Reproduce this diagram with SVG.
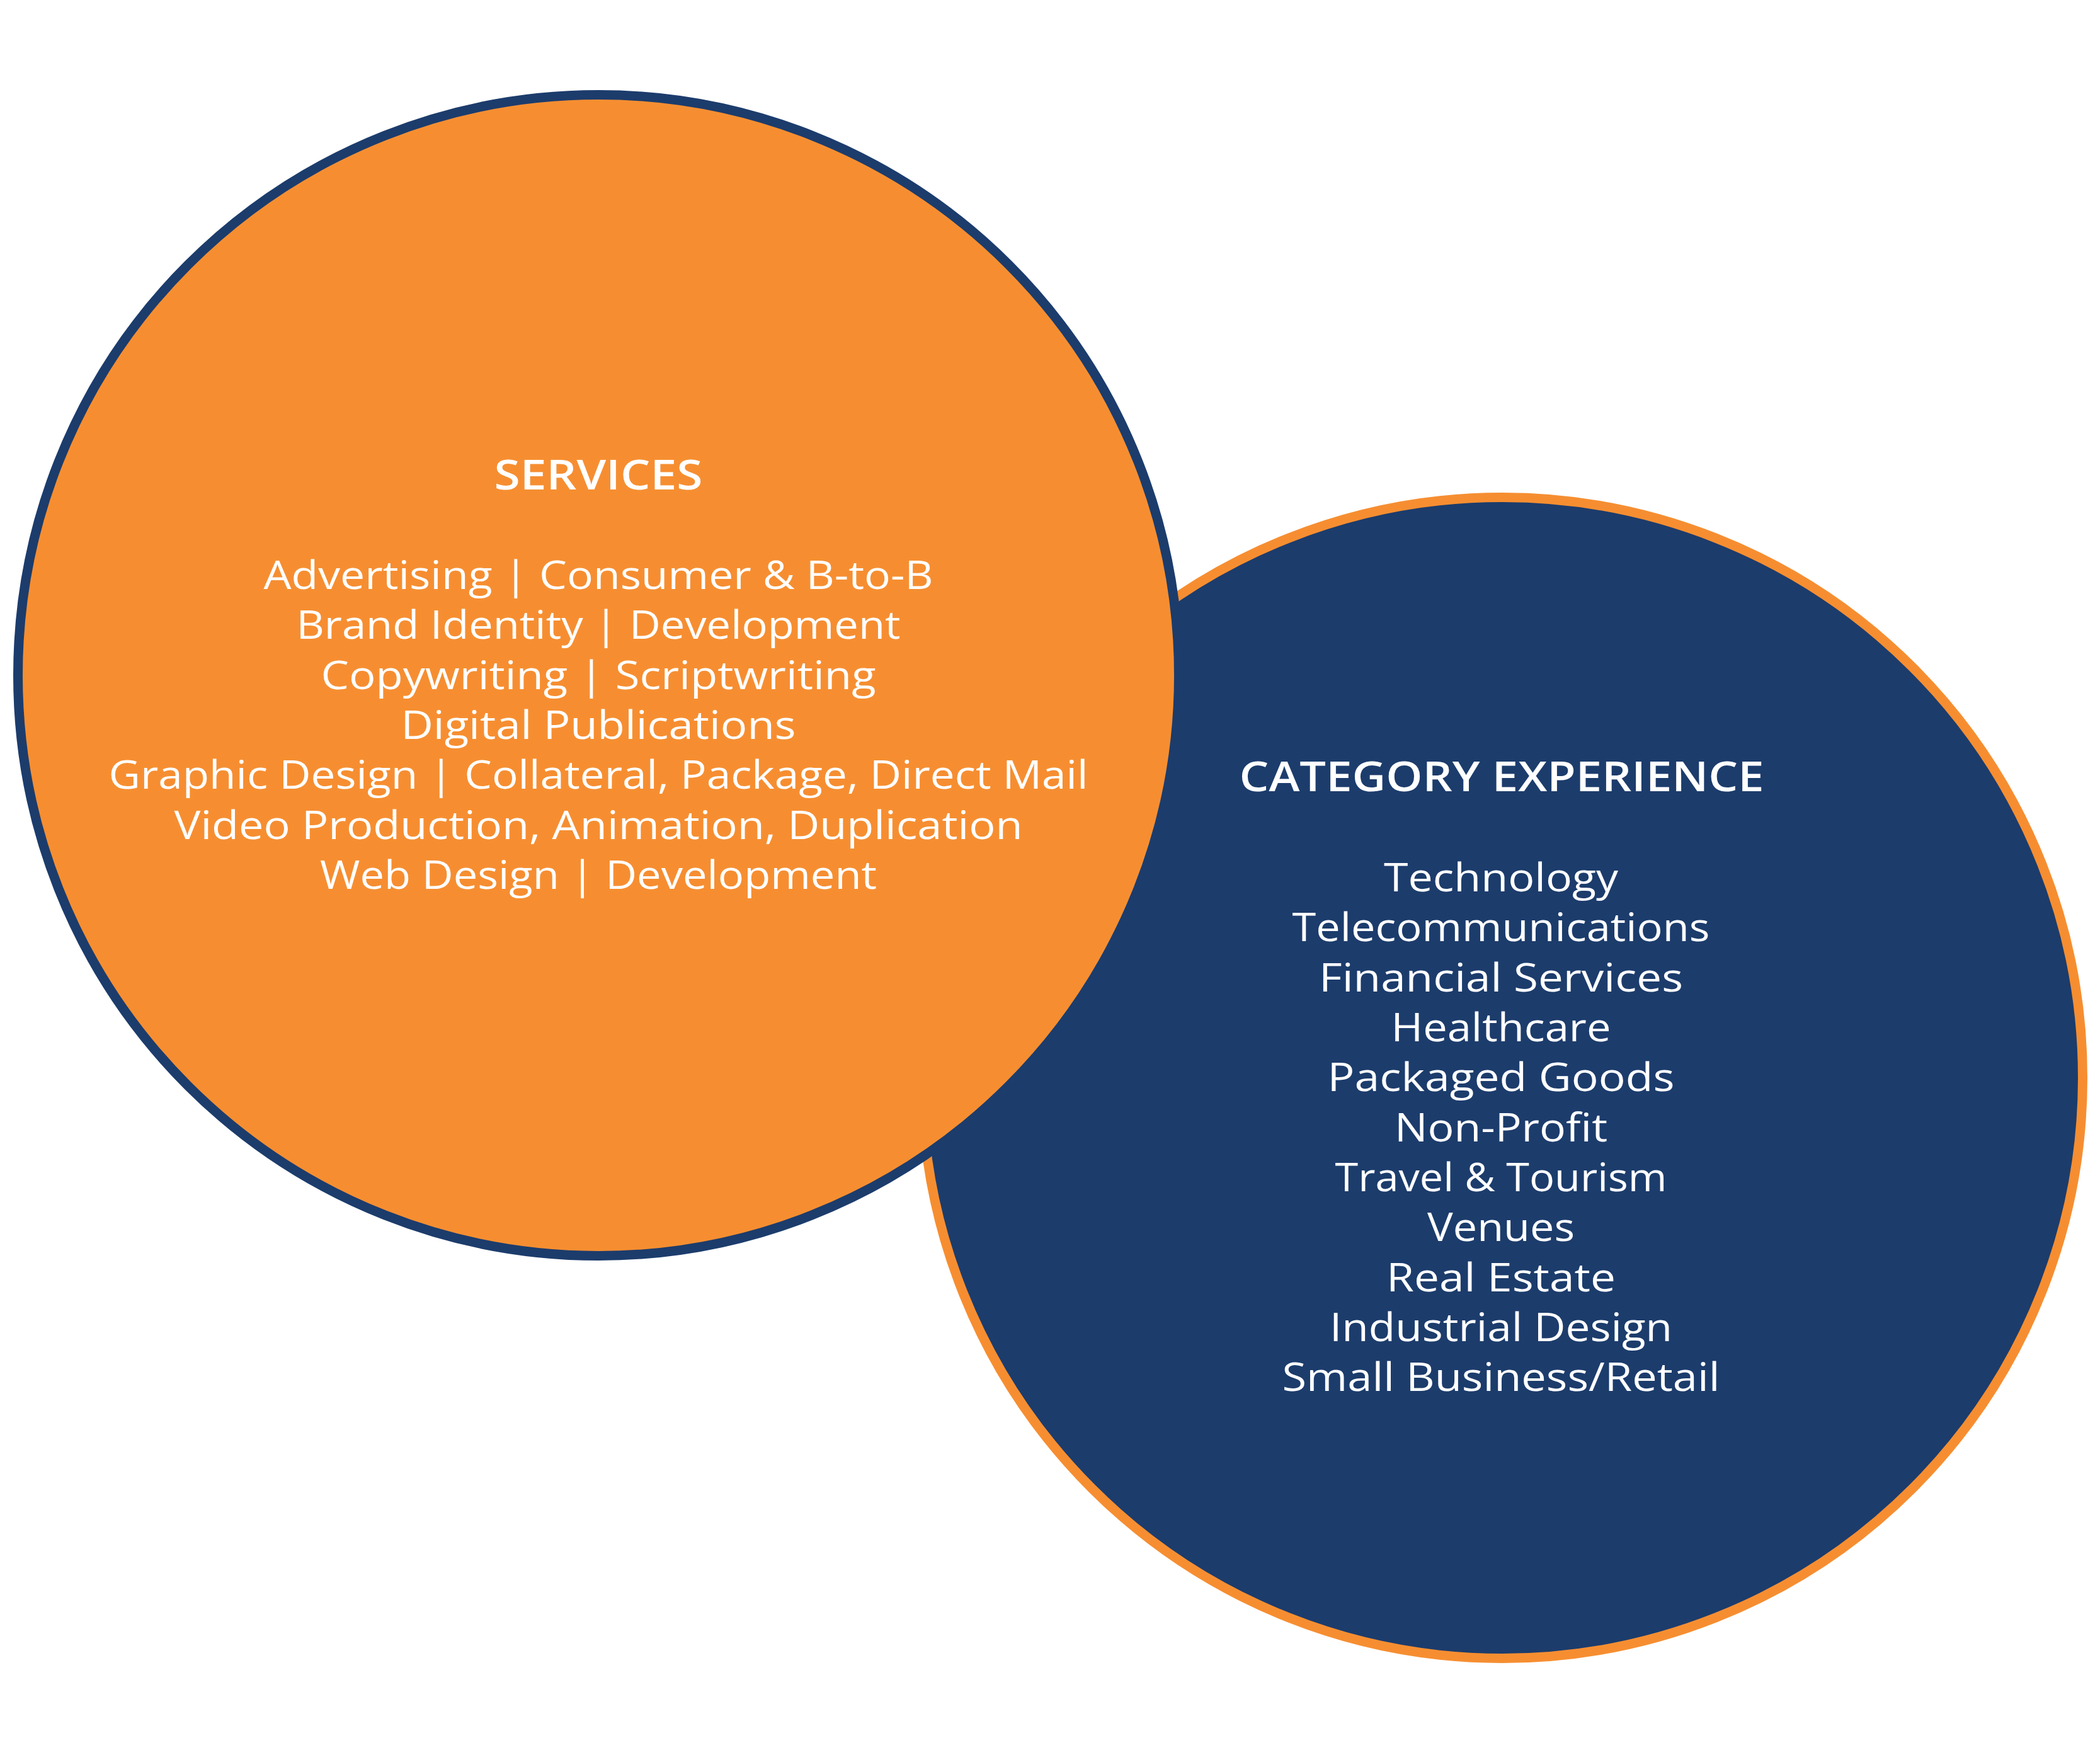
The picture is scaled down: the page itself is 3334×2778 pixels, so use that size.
<svg xmlns="http://www.w3.org/2000/svg" width="3334" height="2778" viewBox="0 0 3334 2778">
  <style>
    .bg { fill: #FFFFFF; }
    .services-circle { fill: #F68E31; stroke: #1C3C6C; stroke-width: 15; }
    .category-circle { fill: #1C3C6C; stroke: #F68E31; stroke-width: 15; }
    .head { font-family: "Open Sans", "Liberation Sans", sans-serif; font-weight: 600; font-size: 65px; fill: #FFFFFF; text-anchor: middle; }
    .item { font-family: "Open Sans", "Liberation Sans", sans-serif; font-weight: 400; font-size: 63px; fill: #FFFFFF; text-anchor: middle; }
  </style>
  <rect class="bg" x="0" y="0" width="3334" height="2778"/>
  <g id="connectors"></g>
  <g id="category-experience">
    <circle class="category-circle" cx="2385" cy="1711" r="921.5"/>
    <text class="head" x="2384" y="1256" textLength="833" lengthAdjust="spacingAndGlyphs">CATEGORY EXPERIENCE</text>
    <text class="item" x="2383" y="1415" textLength="372" lengthAdjust="spacingAndGlyphs">Technology</text>
    <text class="item" x="2383" y="1494" textLength="663" lengthAdjust="spacingAndGlyphs">Telecommunications</text>
    <text class="item" x="2383" y="1574" textLength="578" lengthAdjust="spacingAndGlyphs">Financial Services</text>
    <text class="item" x="2383" y="1653" textLength="349" lengthAdjust="spacingAndGlyphs">Healthcare</text>
    <text class="item" x="2383" y="1732" textLength="551" lengthAdjust="spacingAndGlyphs">Packaged Goods</text>
    <text class="item" x="2383" y="1812" textLength="338" lengthAdjust="spacingAndGlyphs">Non-Profit</text>
    <text class="item" x="2383" y="1891" textLength="527" lengthAdjust="spacingAndGlyphs">Travel &amp; Tourism</text>
    <text class="item" x="2383" y="1970" textLength="234" lengthAdjust="spacingAndGlyphs">Venues</text>
    <text class="item" x="2383" y="2050" textLength="364" lengthAdjust="spacingAndGlyphs">Real Estate</text>
    <text class="item" x="2383" y="2129" textLength="544" lengthAdjust="spacingAndGlyphs">Industrial Design</text>
    <text class="item" x="2383" y="2208" textLength="695" lengthAdjust="spacingAndGlyphs">Small Business/Retail</text>
  </g>
  <g id="services">
    <circle class="services-circle" cx="950" cy="1072" r="921.5"/>
    <text class="head" x="950" y="777" textLength="331" lengthAdjust="spacingAndGlyphs">SERVICES</text>
    <text class="item" x="950" y="935" textLength="1063" lengthAdjust="spacingAndGlyphs">Advertising | Consumer &amp; B-to-B</text>
    <text class="item" x="950" y="1014" textLength="959" lengthAdjust="spacingAndGlyphs">Brand Identity | Development</text>
    <text class="item" x="950" y="1094" textLength="881" lengthAdjust="spacingAndGlyphs">Copywriting | Scriptwriting</text>
    <text class="item" x="950" y="1173" textLength="627" lengthAdjust="spacingAndGlyphs">Digital Publications</text>
    <text class="item" x="950" y="1252" textLength="1555" lengthAdjust="spacingAndGlyphs">Graphic Design | Collateral, Package, Direct Mail</text>
    <text class="item" x="950" y="1332" textLength="1347" lengthAdjust="spacingAndGlyphs">Video Production, Animation, Duplication</text>
    <text class="item" x="950" y="1411" textLength="884" lengthAdjust="spacingAndGlyphs">Web Design | Development</text>
  </g>
</svg>
